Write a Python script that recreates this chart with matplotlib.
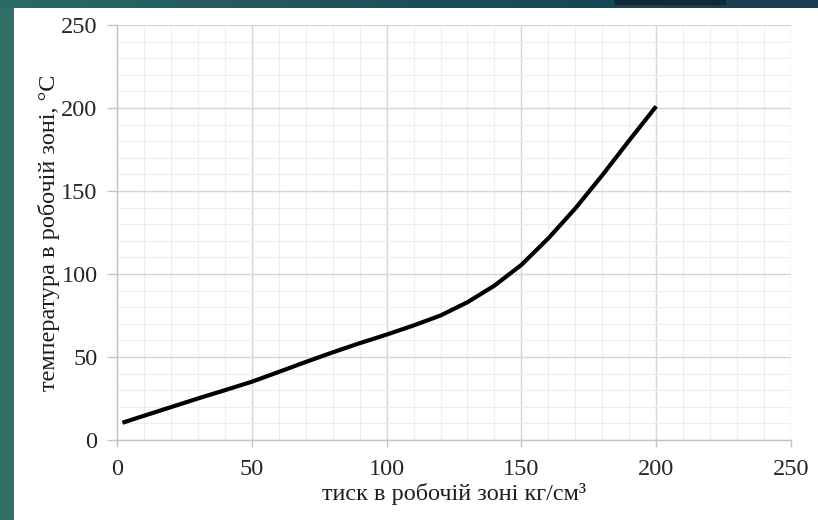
import matplotlib.pyplot as plt
from matplotlib.colors import LinearSegmentedColormap
from matplotlib.patches import Rectangle
from matplotlib.ticker import MultipleLocator
import numpy as np


# pressure in the working zone (kg/cm3) and matching temperature (°C)
pressure = [2, 10, 20, 30, 40, 50, 60, 70, 80, 90, 100,
            110, 120, 130, 140, 150, 160, 170, 180, 190, 200]
temperature = [10.4, 14.6, 19.8, 25.0, 30.0, 35.1, 41.0, 47.0, 52.8, 58.3, 63.5,
               69.0, 75.0, 83.0, 93.0, 105.5, 121.5, 139.5, 159.5, 180.5, 201.0]

x_ticks = [0, 50, 100, 150, 200, 250]
y_ticks = [0, 50, 100, 150, 200, 250]

plt.rcParams["font.family"] = ["Liberation Serif", "DejaVu Serif"]

fig = plt.figure(figsize=(8.18, 5.20), dpi=100)
fig.patch.set_facecolor("#2f6f68")

# slide frame: darker gradient strip along the top, white panel inside
strip = fig.add_axes([0, 1 - 8 / 520, 1, 8 / 520])
grad = np.linspace(0, 1, 256).reshape(1, -1)
cmap = LinearSegmentedColormap.from_list("frame", ["#2c6a64", "#1d4f5a", "#163d52"])
strip.imshow(grad, aspect="auto", cmap=cmap, extent=[0, 1, 0, 1])
strip.add_patch(Rectangle((615 / 818, 0.55), 110 / 818, 0.45, color="#0f2a36"))
strip.set_xlim(0, 1)
strip.set_ylim(0, 1)
strip.axis("off")

panel = fig.add_axes([14 / 818, 0, 1 - 14 / 818, 1 - 8 / 520])
panel.set_facecolor("white")
panel.set_xticks([])
panel.set_yticks([])
for s in panel.spines.values():
    s.set_visible(False)

ax = fig.add_axes([117 / 818, 1 - 440 / 520, 674 / 818, 415 / 520])
ax.set_facecolor("white")
ax.plot(pressure, temperature, color="black", linewidth=3.0,
        solid_joinstyle="round", solid_capstyle="butt", zorder=3)

ax.set_xlim(0, 250)
ax.set_ylim(0, 250)
ax.set_xticks(x_ticks)
ax.set_yticks(y_ticks)
ax.xaxis.set_minor_locator(MultipleLocator(10))
ax.yaxis.set_minor_locator(MultipleLocator(10))
ax.grid(which="major", color="#d6d6d6", linewidth=1.0)
ax.grid(which="minor", color="#ededed", linewidth=0.8)
ax.set_axisbelow(True)

for side in ["top", "right"]:
    ax.spines[side].set_visible(False)
for side in ["left", "bottom"]:
    ax.spines[side].set_color("#c4c4c4")
    ax.spines[side].set_linewidth(1.0)

ax.tick_params(axis="y", which="major", length=7, width=1.0, color="#c4c4c4",
               pad=7, labelsize=17.5, labelcolor="#262626")
ax.tick_params(axis="x", which="major", length=5, width=1.0, color="#c4c4c4",
               pad=9, labelsize=17.5, labelcolor="#262626")
ax.tick_params(which="minor", length=0)

ax.set_xlabel("тиск в робочій зоні кг/см³", fontsize=17.5, color="#1e1e1e",
              labelpad=2)
ax.set_ylabel("температура в робочій зоні, °C", fontsize=17.5, color="#1e1e1e",
              labelpad=1)

fig.savefig("out.png", dpi=100, facecolor=fig.get_facecolor())
